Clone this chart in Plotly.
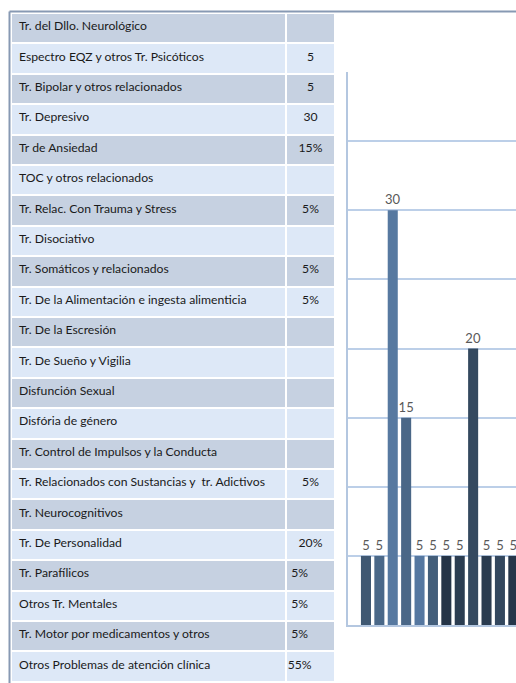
import plotly.graph_objects as go

# --- datos de la tabla ---
categorias = [
    "Tr. del Dllo. Neurológico",
    "Espectro EQZ y otros Tr. Psicóticos",
    "Tr. Bipolar y otros relacionados",
    "Tr. Depresivo",
    "Tr de Ansiedad",
    "TOC y otros relacionados",
    "Tr. Relac. Con Trauma y Stress",
    "Tr. Disociativo",
    "Tr. Somáticos y relacionados",
    "Tr. De la Alimentación e ingesta alimenticia",
    "Tr. De la Escresión",
    "Tr. De Sueño y Vigilia",
    "Disfunción Sexual",
    "Disfória de género",
    "Tr. Control de Impulsos y la Conducta",
    "Tr. Relacionados con Sustancias y  tr. Adictivos",
    "Tr. Neurocognitivos",
    "Tr. De Personalidad",
    "Tr. Parafílicos",
    "Otros Tr. Mentales",
    "Tr. Motor por medicamentos y otros",
    "Otros Problemas de atención clínica",
]
valores_tabla = ["", "5", "5", "30", "15%", "", "5%", "", "5%", "5%", "", "", "",
                 "", "", "5%", "", "20%", "5%", "5%", "5%", "55%"]

# --- datos del gráfico de barras (solo categorías con valor) ---
barras = [5, 5, 30, 15, 5, 5, 5, 5, 20, 5, 5, 5, 55]
colores_barras = ["#3f5872", "#4a6888", "#5779a0", "#4a6787", "#5577a0", "#435e7a",
                  "#243447", "#2b3d51", "#34495f", "#2a3b4f", "#33475e", "#26364a",
                  "#2f4257"]

W, H = 516, 683
FONT = "Lato, Liberation Sans, sans-serif"
oscuro, claro = "#c6d1e1", "#dde8f7"

filas = categorias[1:]
# las últimas filas aparecen alineadas a la izquierda en el original
vals = [v + "\u00a0" * 7 if i >= 17 and v else v for i, v in enumerate(valores_tabla[1:])]
fill_rows = [claro if i % 2 == 0 else oscuro for i in range(len(filas))]

fig = go.Figure()

fig.add_trace(go.Table(
    domain=dict(x=[11 / W, 335 / W], y=[0, 1 - 13 / H]),
    columnwidth=[275, 49],
    header=dict(
        values=[categorias[0], valores_tabla[0]],
        fill_color=oscuro,
        line=dict(color="white", width=2),
        align=["left", "center"],
        font=dict(family=FONT, size=12.2, color="#1a1a1a"),
        height=30.4,
    ),
    cells=dict(
        values=[filas, vals],
        fill_color=[fill_rows, fill_rows],
        line=dict(color="white", width=2),
        align=["left", "center"],
        font=dict(family=FONT, size=12.2, color="#1a1a1a"),
        height=30.4,
    ),
))

fig.add_trace(go.Bar(
    x=list(range(len(barras))),
    y=barras,
    marker=dict(color=colores_barras, line=dict(width=0)),
    text=[str(v) for v in barras],
    textposition="outside",
    constraintext="none",
    textfont=dict(family=FONT, size=13, color="#595959"),
    cliponaxis=False,
    xaxis="x", yaxis="y",
))

fig.update_layout(
    width=W, height=H,
    margin=dict(l=0, r=0, t=0, b=0),
    paper_bgcolor="white",
    plot_bgcolor="white",
    showlegend=False,
    bargap=0.25,
    xaxis=dict(
        domain=[348 / W, 1],
        range=[-1.34, 11.2],
        showticklabels=False, ticks="",
        showgrid=False, zeroline=False,
        showline=True, linecolor="#b4c7e0", linewidth=2,
    ),
    yaxis=dict(
        domain=[(H - 625) / H, (H - 72) / H],
        range=[0, 40],
        dtick=5,
        showticklabels=False, ticks="",
        showgrid=True, gridcolor="#bccfe8", gridwidth=2,
        zeroline=False,
        showline=True, linecolor="#b4c7e0", linewidth=2,
    ),
    shapes=[
        # marco superior e izquierdo
        dict(type="line", xref="paper", yref="paper", x0=9.5 / W, x1=1,
             y0=1 - 11.5 / H, y1=1 - 11.5 / H, line=dict(color="#8799b3", width=2)),
        dict(type="line", xref="paper", yref="paper", x0=9.5 / W, x1=9.5 / W,
             y0=0, y1=1 - 11.5 / H, line=dict(color="#8799b3", width=2)),
    ],
)

# quitar el margen por defecto del body para que la figura ocupe toda la ventana
fig.write_html("out.html", config={"displayModeBar": False},
               post_script="document.body.style.margin='0';")
